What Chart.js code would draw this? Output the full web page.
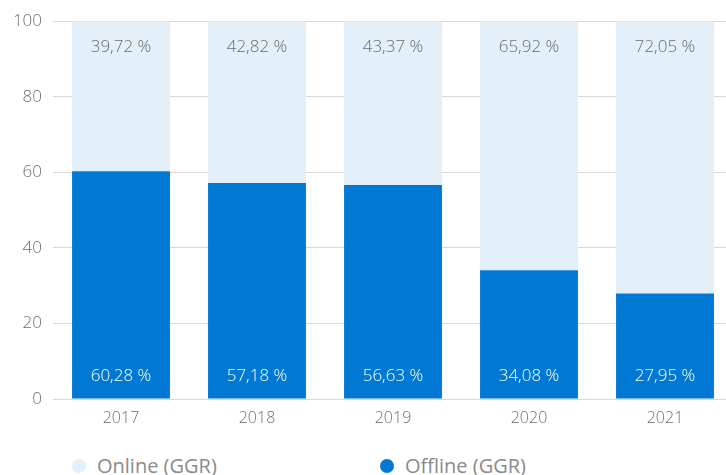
<!DOCTYPE html>
<html>
<head>
<script src="https://cdn.jsdelivr.net/npm/chart.js@4.4.2/dist/chart.umd.js"></script>
<style>
html, body {
    margin: 0;
    padding: 0;
    background: #fff;
    overflow: hidden;
}
#wrap {
    width: 733px;
    height: 430px;
    position: relative;
}
#legend {
    position: absolute;
    top: 452px;
    left: 0;
    width: 726px;
    height: 30px;
    font-family: "Open Sans", sans-serif;
    font-size: 20px;
    color: #8a8a8a;
}
.item {
    position: absolute;
    top: 0;
    display: flex;
    align-items: center;
}
.dot {
    width: 14px;
    height: 14px;
    border-radius: 50%;
    margin-right: 11px;
}
</style>
</head>
<body>
<div id="wrap"><canvas id="chart"></canvas></div>
<div id="legend"></div>
<script>
const years = ["2017", "2018", "2019", "2020", "2021"];
const offline = [60.28, 57.18, 56.63, 34.08, 27.95];
const online = [39.72, 42.82, 43.37, 65.92, 72.05];
const seriesNames = ["Online (GGR)", "Offline (GGR)"];

const blue = "#0079d4";
const lightBlue = "#e3f0fa";
const fmt = v => v.toFixed(2).replace(".", ",") + " %";

// writes the share inside each bar, near top for online and near bottom for offline
const barLabels = {
    id: "barLabels",
    afterDatasetsDraw(chart) {
        const ctx = chart.ctx;
        ctx.save();
        ctx.font = "300 17px 'Open Sans', sans-serif";
        ctx.textAlign = "center";
        ctx.textBaseline = "middle";
        chart.data.datasets.forEach((ds, i) => {
            const meta = chart.getDatasetMeta(i);
            meta.data.forEach((bar, j) => {
                if (ds.label === "Offline (GGR)") {
                    ctx.fillStyle = "#ffffff";
                    ctx.fillText(fmt(ds.data[j]), bar.x, bar.base - 22);
                } else {
                    ctx.fillStyle = "#6c6c6c";
                    ctx.fillText(fmt(ds.data[j]), bar.x, bar.y + 26);
                }
            });
        });
        ctx.restore();
    }
};

const chart = new Chart(document.getElementById("chart"), {
    type: "bar",
    data: {
        labels: years,
        datasets: [
            { label: "Offline (GGR)", data: offline, backgroundColor: blue },
            { label: "Online (GGR)", data: online, backgroundColor: lightBlue }
        ]
    },
    options: {
        responsive: true,
        maintainAspectRatio: false,
        animation: false,
        layout: { padding: { top: 20, right: 0, bottom: 0, left: 0 } },
        datasets: { bar: { barPercentage: 0.72, categoryPercentage: 1 } },
        plugins: { legend: { display: false }, tooltip: { enabled: false } },
        scales: {
            x: {
                stacked: true,
                grid: { display: false },
                border: { display: false },
                ticks: { color: "#6f6f6f", padding: 2, font: { family: "'Open Sans', sans-serif", size: 16, weight: 300 } },
                afterFit: s => { s.height = 31; }
            },
            y: {
                stacked: true,
                min: 0,
                max: 100,
                grid: { color: "#d9d9d9", drawTicks: false },
                border: { display: false },
                ticks: { stepSize: 20, color: "#6f6f6f", padding: 11, font: { family: "'Open Sans', sans-serif", size: 17, weight: 300 } },
                afterFit: s => { s.width = 53; }
            }
        }
    },
    plugins: [barLabels]
});

// legend below the chart
const legend = document.getElementById("legend");
[[seriesNames[0], lightBlue, 72], [seriesNames[1], blue, 380]].forEach(([name, color, left]) => {
    const el = document.createElement("div");
    el.className = "item";
    el.style.left = left + "px";
    el.innerHTML = '<span class="dot" style="background:' + color + '"></span><span>' + name + '</span>';
    legend.appendChild(el);
});
</script>
</body>
</html>
